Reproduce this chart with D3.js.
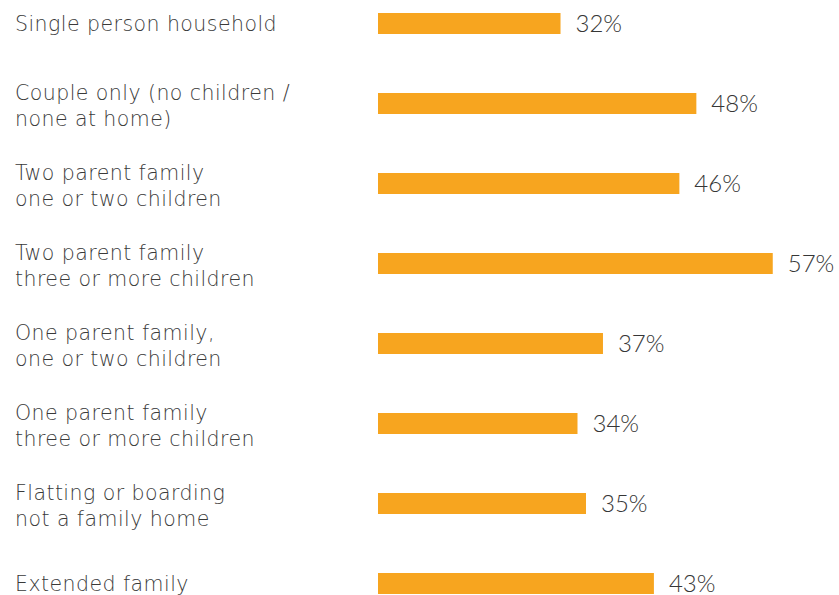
<!DOCTYPE html>
<html>
<head>
<meta charset="utf-8">
<script src="https://cdn.jsdelivr.net/npm/d3@7"></script>
<style>
  html, body { margin: 0; padding: 0; background: #fff; }
  svg { display: block; }
  .cat { font-family: "DejaVu Sans", sans-serif; font-weight: 200; fill: #3a3a3a; letter-spacing: 0.45px; }
  .val { font-family: Lato, "Open Sans", sans-serif; font-weight: 300; fill: #363636; }
</style>
</head>
<body>
<svg id="chart" width="839" height="595"></svg>
<script>
// Household types (each entry is the lines of its label)
const categories = [
  ["Single person household"],
  ["Couple only (no children /", "none at home)"],
  ["Two parent family", "one or two children"],
  ["Two parent family", "three or more children"],
  ["One parent family,", "one or two children"],
  ["One parent family", "three or more children"],
  ["Flatting or boarding", "not a family home"],
  ["Extended family"]
];
// Share of each household type, in percent
const values = [32, 48, 46, 57, 37, 34, 35, 43];
const valueLabels = values.map(v => v + "%");

const width = 839, height = 595;
const svg = d3.select("#chart");

const x = d3.scaleLinear().domain([10.5, 57.5]).range([378, 777]);
const y = d3.scaleBand()
  .domain(d3.range(categories.length))
  .range([-16.5, 623.5])
  .paddingInner(0.7375)
  .paddingOuter(0.36875);

const barColor = "#F7A51F";

// Bars
svg.append("g").selectAll("rect")
  .data(values)
  .join("rect")
  .attr("x", x.range()[0])
  .attr("y", (d, i) => y(i))
  .attr("width", d => x(d) - x.range()[0])
  .attr("height", y.bandwidth())
  .attr("fill", barColor);

// Value labels
svg.append("g").selectAll("text")
  .data(values)
  .join("text")
  .attr("class", "val")
  .attr("x", d => x(d) + 15)
  .attr("y", (d, i) => y(i) + y.bandwidth() / 2 + 8)
  .attr("font-size", 24)
  .text((d, i) => valueLabels[i]);

// Category labels, one or two lines centred on their bar
const lineH = 26;
const cat = svg.append("g").selectAll("text")
  .data(categories)
  .join("text")
  .attr("class", "cat")
  .attr("font-size", 20.5)
  .attr("x", 15)
  .attr("y", (d, i) => y(i) + y.bandwidth() / 2 + 7.5 - (d.length - 1) * lineH / 2 + (d.length - 1) * 2);
cat.selectAll("tspan")
  .data(d => d)
  .join("tspan")
  .attr("x", 15)
  .attr("dy", (d, j) => j === 0 ? 0 : lineH)
  .text(d => d);
</script>
</body>
</html>
